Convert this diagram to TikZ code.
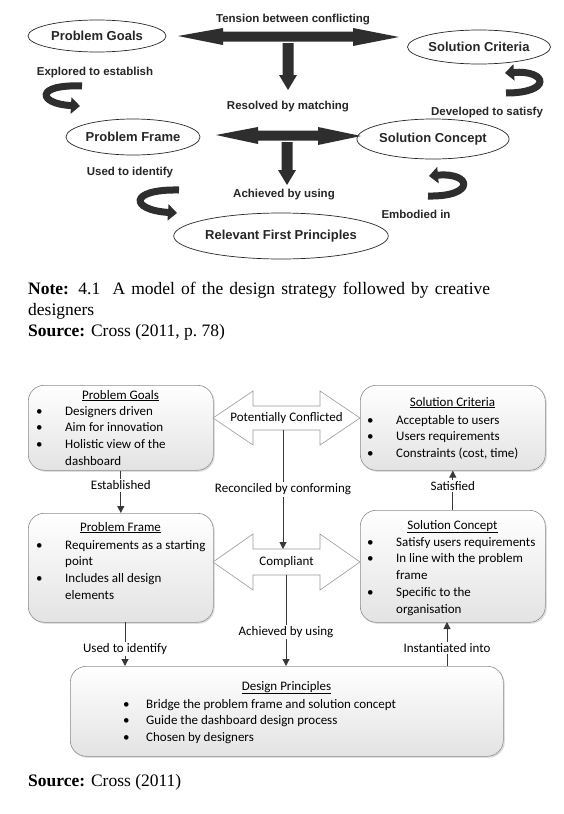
\documentclass[tikz,border=0pt]{standalone}
\usepackage{fontspec}
\setmainfont{Liberation Serif}
\newfontfamily\arialf{Liberation Sans}
\newfontfamily\calf{Carlito}
\usetikzlibrary{arrows.meta,shapes.geometric,shadows}
\newcommand\blst[2]{\begin{tabular}[t]{@{}p{#1pt}@{}l@{}}#2\end{tabular}}
\newcommand\bu{\textbullet}
\begin{document}
\begin{tikzpicture}[x=1pt,y=-1pt,
  ell/.style={ellipse, draw=black!85, line width=0.7pt, inner sep=0pt,
    font=\arialf\bfseries\fontsize{13}{15}\selectfont, text=black!85},
  toplbl/.style={font=\arialf\bfseries\fontsize{11.5}{13}\selectfont, text=black!85, inner sep=0pt},
  dark/.style={fill=black!82, draw=none},
  curv/.style={line width=7pt, draw=black!82, -{Triangle[length=9pt,width=16pt]}},
  box/.style={rounded corners=16pt, draw=black!45, line width=0.6pt,
    top color=white, bottom color=black!11,
    drop shadow={shadow xshift=1.5pt, shadow yshift=-1.5pt, opacity=0.25}},
  hollow/.style={draw=black!40, fill=white, line width=0.6pt},
  conn/.style={draw=black!78, line width=1pt, -{Triangle[length=7pt,width=7pt]}},
  lbl/.style={fill=white, inner sep=1.5pt, font=\calf\fontsize{13}{15}\selectfont},
  btxt/.style={font=\calf\fontsize{13}{16.8}\selectfont, inner sep=0pt, anchor=base west},
  ttl/.style={font=\calf\fontsize{13}{15}\selectfont, inner sep=0pt, anchor=base},
  note/.style={font=\fontsize{17.5}{21}\selectfont, inner sep=0pt, anchor=base west}
]
\useasboundingbox (0,0) rectangle (564,814);
\fill[white] (0,0) rectangle (564,814);

% ---------------- top diagram ----------------
\node[ell, minimum width=138, minimum height=32] (pgE) at (97,36) {Problem Goals};
\node[ell, minimum width=136, minimum height=34] (scE) at (479,47) {Solution Criteria};
\node[ell, minimum width=134, minimum height=36] (pfE) at (133,137) {Problem Frame};
\node[ell, minimum width=136, minimum height=40] (scoE) at (433,139) {Solution Concept};
\node[ell, minimum width=188, minimum height=46] (rfpE) at (281,236) {Relevant First Principles};

% filled double arrows
\path[dark] (178,36) -- (223,28) -- (223,31.5) -- (353,31.5) -- (353,28) -- (399,37)
  -- (353,46) -- (353,41.5) -- (223,41.5) -- (223,45) -- cycle;
\path[dark] (216,135) -- (258,127) -- (258,130.5) -- (318,130.5) -- (318,127) -- (361,136)
  -- (318,145) -- (318,140.5) -- (258,140.5) -- (258,144) -- cycle;
% filled down arrows
\path[dark] (282.5,43) -- (293.5,43) -- (293.5,75) -- (297,75) -- (288,90) -- (279,75) -- (282.5,75) -- cycle;
\path[dark] (281.5,142) -- (292.5,142) -- (292.5,170) -- (296,170) -- (287,185) -- (278,170) -- (281.5,170) -- cycle;

% curved arrows
\draw[curv] (82,86) .. controls (34,84) and (38,104) .. (80,106);
\draw[curv] (506,93) .. controls (552,93) and (548,70) .. (505,73);
\draw[curv] (179,190) .. controls (128,189) and (130,210) .. (177,213);
\draw[curv] (428,196) .. controls (476,197) and (472,172) .. (429,176);

\node[toplbl] (t1) at (293,20) {Tension between conflicting};
\node[toplbl] (t2) at (95,73) {Explored to establish};
\node[toplbl] (t3) at (288,107) {Resolved by matching};
\node[toplbl] (t4) at (487,113) {Developed to satisfy};
\node[toplbl] (t5) at (130,173) {Used to identify};
\node[toplbl] (t6) at (284,195) {Achieved by using};
\node[toplbl] (t7) at (416,214) {Embodied in};

% ---------------- notes ----------------
\node[note] (n1) at (28,294) {\makebox[462pt][s]{\textbf{Note:} 4.1\ \ A model of the design strategy followed by creative}};
\node[note] (n2) at (28,315) {designers};
\node[note] (n3) at (28,336) {\textbf{Source:} Cross (2011, p.~78)};
\node[note] (n4) at (28,786) {\textbf{Source:} Cross (2011)};

% ---------------- bottom diagram ----------------
\node[box, minimum width=185, minimum height=85, anchor=north west] (pg) at (28,385) {};
\node[box, minimum width=185, minimum height=85, anchor=north west] (sc) at (360,385) {};
\node[box, minimum width=185, minimum height=109, anchor=north west] (pf) at (28,513) {};
\node[box, minimum width=185, minimum height=112, anchor=north west] (scon) at (360,510) {};
\node[box, minimum width=433, minimum height=90, anchor=north west] (dp) at (70,666) {};

\node[ttl] (pgT) at (120.5,399) {\underline{Problem Goals}};
\node[btxt] (pgL) at (36,415) {\blst{29}{\bu & Designers driven\\ \bu & Aim for innovation\\ \bu & Holistic view of the\\ & dashboard}};

\node[ttl] (scT) at (452.5,406) {\underline{Solution Criteria}};
\node[btxt] (scL) at (367,424) {\blst{29}{\bu & Acceptable to users\\ \bu & Users requirements\\ \bu & Constraints (cost, time)}};

\node[ttl] (pfT) at (120.5,531) {\underline{Problem Frame}};
\node[btxt] (pfL) at (36,549) {\blst{29}{\bu & Requirements as a starting\\ & point\\ \bu & Includes all design\\ & elements}};

\node[ttl] (sconT) at (452.5,529) {\underline{Solution Concept}};
\node[btxt] (sconL) at (367,546) {\blst{29}{\bu & Satisfy users requirements\\ \bu & In line with the problem\\ & frame\\ \bu & Specific to the\\ & organisation}};

\node[ttl] (dpT) at (286.5,690) {\underline{Design Principles}};
\node[btxt] (dpL) at (123,708) {\blst{23}{\bu & Bridge the problem frame and solution concept\\ \bu & Guide the dashboard design process\\ \bu & Chosen by designers}};

% hollow double arrows
\path[hollow] (213,418) -- (253,391) -- (253,406) -- (320,406) -- (320,391) -- (360,418)
  -- (320,445) -- (320,430) -- (253,430) -- (253,445) -- cycle;
\node[font=\calf\fontsize{13}{15}\selectfont] (pcT) at (286.5,418) {Potentially Conflicted};
\path[hollow] (213,562) -- (253,534) -- (253,549) -- (320,549) -- (320,534) -- (360,562)
  -- (320,590) -- (320,575) -- (253,575) -- (253,590) -- cycle;
\node[font=\calf\fontsize{13}{15}\selectfont] (cpT) at (286.5,562) {Compliant};

\coordinate (recA) at (283,430);
\coordinate (recB) at (283,549);
\coordinate (achA) at (286,575);
\coordinate (achB) at (286,666);
\coordinate (useA) at (125,622);
\coordinate (useB) at (125,666);
\coordinate (insA) at (447,666);
\coordinate (insB) at (447,622);

\draw[conn] (pg.south) -- node[lbl, pos=0.35] (lE) {Established} (pf.north);
\draw[conn] (recA) -- node[lbl, pos=0.5] (lR) {Reconciled by conforming} (recB);
\draw[conn] (scon.north) -- node[lbl, pos=0.62] (lS) {Satisfied} (sc.south);
\draw[conn] (useA) -- node[lbl, pos=0.62] (lU) {Used to identify} (useB);
\draw[conn] (achA) -- node[lbl, pos=0.63] (lA) {Achieved by using} (achB);
\draw[conn] (insA) -- node[lbl, pos=0.4] (lI) {Instantiated into} (insB);
\end{tikzpicture}
\end{document}
